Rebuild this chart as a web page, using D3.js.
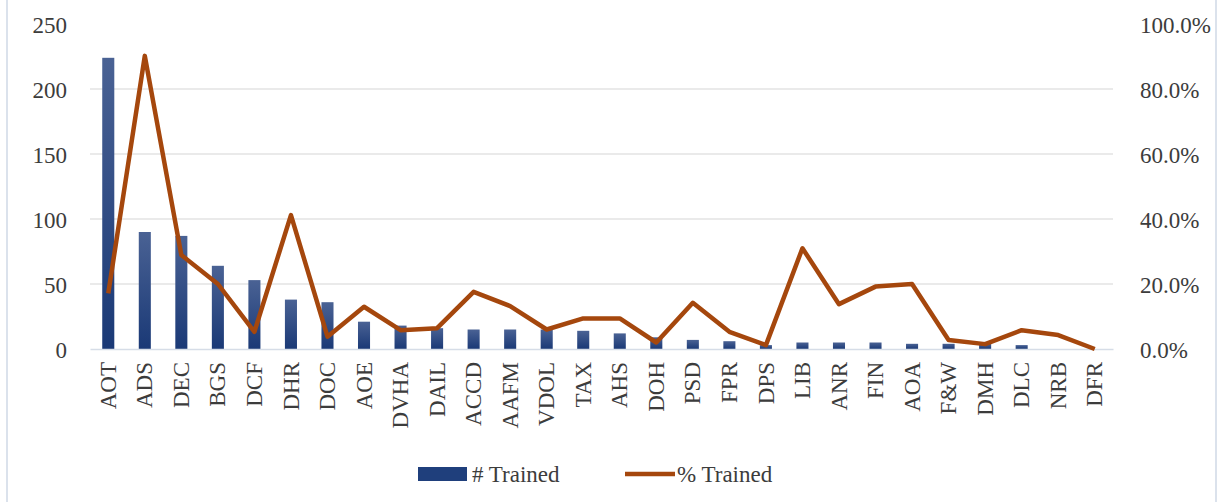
<!DOCTYPE html>
<html>
<head>
<meta charset="utf-8">
<script src="https://cdn.jsdelivr.net/npm/d3@7"></script>
<style>
  body { margin: 0; background: #fff; }
  svg text { font-family: "Liberation Serif", "DejaVu Serif", serif; fill: #3c3c3c; }
</style>
</head>
<body>
<svg id="chart"></svg>
<script>
// departments
const depts = ['AOT','ADS','DEC','BGS','DCF','DHR','DOC','AOE','DVHA','DAIL','ACCD','AAFM','VDOL','TAX',
  'AHS','DOH','PSD','FPR','DPS','LIB','ANR','FIN','AOA','F&W','DMH','DLC','NRB','DFR'];
// # Trained
const trained = [224,90,87,64,53,38,36,21,18,16,15,15,15,14,12,9,7,6,3,5,5,5,4,4,4,3,0,0];
// % Trained
const pctTrained = [0.171,0.902,0.289,0.20,0.053,0.412,0.038,0.13,0.058,0.064,0.176,0.132,0.06,0.094,
  0.094,0.02,0.142,0.053,0.012,0.31,0.138,0.192,0.20,0.028,0.015,0.058,0.043,0.0];
const leftTicks = [0,50,100,150,200,250];
const rightTicks = [0,0.2,0.4,0.6,0.8,1.0];

const W = 1223, H = 502;
const margin = {top: 24, right: 110, bottom: 153, left: 90};
const width = W - margin.left - margin.right;
const height = H - margin.top - margin.bottom;
const serif = '"Liberation Serif", "DejaVu Serif", serif';

const svg = d3.select('#chart').attr('width', W).attr('height', H);

// frame edges
svg.append('line').attr('x1', 7).attr('x2', 7).attr('y1', 0).attr('y2', H)
  .attr('stroke', '#dbe2ec').attr('stroke-width', 2);
svg.append('line').attr('x1', 1216).attr('x2', 1216).attr('y1', 0).attr('y2', H)
  .attr('stroke', '#dbe2ec').attr('stroke-width', 2);

const defs = svg.append('defs');
const grad = defs.append('linearGradient').attr('id', 'barGrad')
  .attr('x1', 0).attr('x2', 0).attr('y1', 0).attr('y2', 1);
grad.append('stop').attr('offset', '0%').attr('stop-color', '#4a6294');
grad.append('stop').attr('offset', '100%').attr('stop-color', '#1a3976');

const g = svg.append('g').attr('transform', 'translate(' + margin.left + ',' + margin.top + ')');

const x = d3.scaleBand().domain(depts).range([0, width]).paddingInner(0.67).paddingOuter(0.335);
const y = d3.scaleLinear().domain([0, 250]).range([height, 0]);
const y2 = d3.scaleLinear().domain([0, 1]).range([height, 0]);

// gridlines
g.append('g')
  .selectAll('line')
  .data(leftTicks.filter(d => d > 0 && d < 250))
  .join('line')
  .attr('x1', 0).attr('x2', width)
  .attr('y1', d => y(d)).attr('y2', d => y(d))
  .attr('stroke', '#e3e3e3').attr('stroke-width', 1.3);

// left axis
const yAxis = g.append('g')
  .call(d3.axisLeft(y).tickValues(leftTicks).tickSize(0).tickPadding(23));
yAxis.attr('font-family', serif);
yAxis.select('.domain').remove();
yAxis.selectAll('text').style('font-size', '23px').attr('dy', '0.35em');

// right axis
const y2Axis = g.append('g').attr('transform', 'translate(' + width + ',0)')
  .call(d3.axisRight(y2).tickValues(rightTicks).tickSize(0).tickPadding(27).tickFormat(d3.format('.1%')));
y2Axis.attr('font-family', serif);
y2Axis.select('.domain').remove();
y2Axis.selectAll('text').style('font-size', '23px').attr('dy', '0.35em');

// bars
g.selectAll('.bar')
  .data(depts)
  .join('rect')
  .attr('class', 'bar')
  .attr('x', d => x(d))
  .attr('width', x.bandwidth())
  .attr('y', (d, i) => y(trained[i]))
  .attr('height', (d, i) => height - y(trained[i]))
  .attr('fill', 'url(#barGrad)');

// x axis
const xAxis = g.append('g').attr('transform', 'translate(0,' + height + ')')
  .call(d3.axisBottom(x).tickSize(0));
xAxis.attr('font-family', serif);
xAxis.select('.domain').attr('stroke', '#d6dde7').attr('stroke-width', 1.5);
xAxis.selectAll('text')
  .style('font-size', '23px')
  .attr('transform', 'rotate(-90)')
  .attr('text-anchor', 'end')
  .attr('x', -13)
  .attr('y', 0)
  .attr('dy', '0.33em');

// line
g.append('path')
  .datum(depts)
  .attr('fill', 'none')
  .attr('stroke', '#a5470d')
  .attr('stroke-width', 4.5)
  .attr('stroke-linejoin', 'round')
  .attr('d', d3.line()
    .x(d => x(d) + x.bandwidth() / 2)
    .y((d, i) => y2(pctTrained[i])));

// legend
const leg = svg.append('g').attr('font-family', serif);
leg.append('rect').attr('x', 418).attr('y', 467).attr('width', 49).attr('height', 14).attr('fill', '#1f3f7c');
leg.append('text').attr('x', 472).attr('y', 474).attr('dy', '0.35em')
  .style('font-family', serif).style('font-size', '23px').text('# Trained');
leg.append('line').attr('x1', 625).attr('x2', 675).attr('y1', 474).attr('y2', 474)
  .attr('stroke', '#a5470d').attr('stroke-width', 4.5);
leg.append('text').attr('x', 677).attr('y', 474).attr('dy', '0.35em')
  .style('font-family', serif).style('font-size', '23px').text('% Trained');
</script>
</body>
</html>
